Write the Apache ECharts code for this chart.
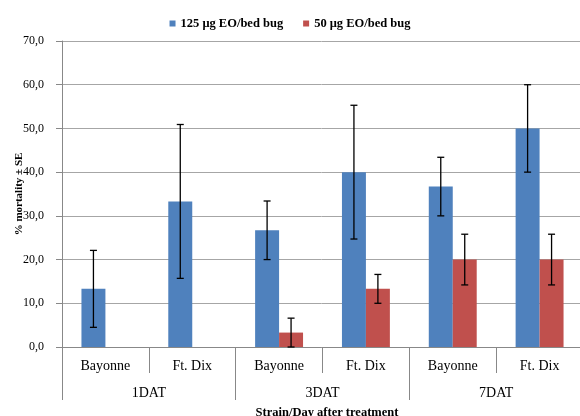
<!DOCTYPE html>
<html>
<head>
<meta charset="utf-8">
<script src="https://cdn.jsdelivr.net/npm/echarts@6/dist/echarts.min.js"></script>
<style>html,body{margin:0;padding:0;background:#fff}#c{width:580px;height:416px}</style>
</head>
<body>
<div id="c"></div>
<script>
const strains = ['Bayonne', 'Ft. Dix', 'Bayonne', 'Ft. Dix', 'Bayonne', 'Ft. Dix'];
const groups = ['1DAT', '3DAT', '7DAT'];
const seriesNames = ['125 μg EO/bed bug', '50 μg EO/bed bug'];
const high = [13.3, 33.3, 26.7, 40.0, 36.7, 50.0];
const highSE = [8.8, 17.6, 6.7, 15.3, 6.7, 10.0];
const low = [0, 0, 3.3, 13.3, 20.0, 20.0];
const lowSE = [null, null, 3.3, 3.3, 5.8, 5.8];
const yTicks = [0, 10, 20, 30, 40, 50, 60, 70];

const catKeys = strains.map((s, i) => groups[Math.floor(i / 2)] + '|' + s);
const FONT = '"Liberation Serif", "Times New Roman", serif';
const GRID = '#a6a6a6';
const BAR_FRAC = 0.276;

function errData(vals, se) {
  const out = [];
  vals.forEach((v, i) => { if (se[i] != null) out.push([i, v, se[i]]); });
  return out;
}
function errSeries(vals, se, offset) {
  return {
    type: 'custom',
    xAxisIndex: 0,
    z: 10,
    silent: true,
    data: errData(vals, se),
    renderItem: function (params, api) {
      const idx = api.value(0), v = api.value(1), e = api.value(2);
      const bw = api.size([1, 0])[0];
      const x = api.coord([idx, v])[0] + offset * bw * BAR_FRAC;
      const yHi = api.coord([idx, v + e])[1];
      const yLo = api.coord([idx, Math.max(0, v - e)])[1];
      const cap = 3.5;
      const st = { stroke: '#000', lineWidth: 1.3 };
      return {
        type: 'group',
        children: [
          { type: 'line', shape: { x1: x, y1: yHi, x2: x, y2: yLo }, style: st },
          { type: 'line', shape: { x1: x - cap, y1: yHi, x2: x + cap, y2: yHi }, style: st },
          { type: 'line', shape: { x1: x - cap, y1: yLo, x2: x + cap, y2: yLo }, style: st }
        ]
      };
    }
  };
}

const chart = echarts.init(document.getElementById('c'));
chart.setOption({
  animation: false,
  backgroundColor: '#fff',
  textStyle: { fontFamily: FONT },
  legend: {
    top: 12,
    left: 'center',
    itemWidth: 6,
    itemHeight: 6,
    itemGap: 20,
    icon: 'rect',
    textStyle: { fontFamily: FONT, fontWeight: 'bold', fontSize: 12.5, color: '#000' },
    data: seriesNames
  },
  title: {
    text: 'Strain/Day after treatment',
    left: 322,
    top: 401,
    textAlign: 'center',
    textStyle: { fontFamily: FONT, fontWeight: 'bold', fontSize: 12.5, color: '#000' }
  },
  grid: { left: 62, right: -3, top: 41, bottom: 69, containLabel: false, outerBoundsMode: 'none' },
  xAxis: [
    {
      type: 'category',
      data: catKeys,
      position: 'bottom',
      axisLine: { lineStyle: { color: '#888', width: 1 } },
      axisTick: { show: true, length: 26, alignWithLabel: false, lineStyle: { color: '#888' } },
      axisLabel: {
        margin: 12,
        fontFamily: FONT,
        fontSize: 14,
        color: '#000',
        interval: 0,
        formatter: function (v, i) { return strains[i]; }
      },
      splitLine: { show: false }
    },
    {
      type: 'category',
      data: groups,
      position: 'bottom',
      axisLine: { show: false },
      axisTick: { show: true, length: 53, lineStyle: { color: '#888' } },
      axisLabel: { margin: 39, fontFamily: FONT, fontSize: 14, color: '#000', interval: 0 },
      splitLine: { show: false }
    }
  ],
  yAxis: {
    type: 'value',
    min: yTicks[0],
    max: yTicks[yTicks.length - 1],
    interval: 10,
    name: '% mortality ± SE',
    nameLocation: 'middle',
    nameGap: 37,
    nameRotate: 90,
    nameMoveOverlap: false,
    nameTextStyle: { fontFamily: FONT, fontWeight: 'bold', fontSize: 11, color: '#000' },
    axisLine: { show: true, lineStyle: { color: '#888' } },
    axisTick: { show: true, length: 6, inside: false, lineStyle: { color: '#888' } },
    axisLabel: {
      margin: 18,
      fontFamily: FONT,
      fontSize: 12,
      color: '#000',
      formatter: function (v) { return v.toFixed(1).replace('.', ','); }
    },
    splitLine: { show: true, lineStyle: { color: GRID, width: 1 } }
  },
  series: [
    {
      name: seriesNames[0],
      type: 'bar',
      xAxisIndex: 0,
      data: high,
      barWidth: (BAR_FRAC * 100) + '%',
      barGap: '0%',
      itemStyle: { color: '#4F81BD' }
    },
    {
      name: seriesNames[1],
      type: 'bar',
      xAxisIndex: 0,
      data: low,
      barWidth: (BAR_FRAC * 100) + '%',
      barGap: '0%',
      itemStyle: { color: '#C0504D' }
    },
    errSeries(high, highSE, -0.5),
    errSeries(low, lowSE, 0.5)
  ]
});
</script>
</body>
</html>
